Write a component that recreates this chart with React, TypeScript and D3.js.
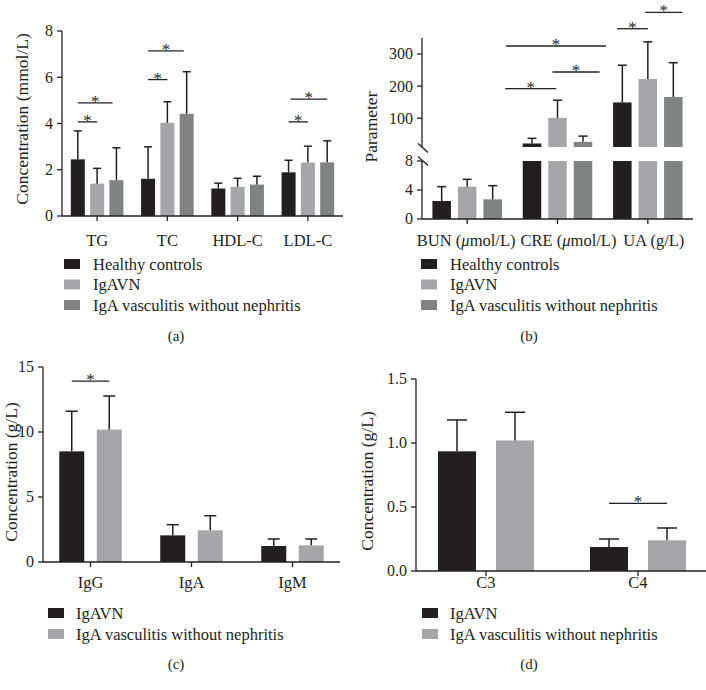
import React from "react";
import * as d3 from "d3";

const FONT = '"Liberation Serif", "Times New Roman", Times, serif';
const INK = "#231f20";
const C_BLACK = "#231f20";
const C_LIGHT = "#a6a6a9";
const C_DARK = "#818382";

// ---------- Panel (a): lipids ----------
const lipidCategories = ["TG", "TC", "HDL-C", "LDL-C"];
const lipidSeriesNames = ["Healthy controls", "IgAVN", "IgA vasculitis without nephritis"];
const lipidHealthyMean = [2.45, 1.61, 1.19, 1.89];
const lipidHealthySD = [1.23, 1.38, 0.23, 0.52];
const lipidIgAVNMean = [1.4, 4.03, 1.26, 2.31];
const lipidIgAVNSD = [0.66, 0.91, 0.37, 0.71];
const lipidNonNephMean = [1.55, 4.42, 1.36, 2.32];
const lipidNonNephSD = [1.4, 1.82, 0.36, 0.93];
const lipidTicks = [0, 2, 4, 6, 8];
// [category, from series, to series, level]
const lipidSig = [
  [0, 0, 1, 4.07],
  [0, 0, 1.8, 4.89],
  [1, 0, 1, 5.9],
  [1, 0, 1.85, 7.14],
  [3, 0, 1, 4.07],
  [3, 0.1, 2, 5.05],
];

// ---------- Panel (b): renal parameters ----------
const renalCategories = ["BUN", "CRE", "UA"];
const renalUnits = ["μmol/L", "μmol/L", "g/L"];
const renalSeriesNames = ["Healthy controls", "IgAVN", "IgA vasculitis without nephritis"];
const renalHealthyMean = [2.48, 21, 149];
const renalHealthySD = [1.98, 16, 116];
const renalIgAVNMean = [4.46, 101, 222];
const renalIgAVNSD = [1.01, 55, 116];
const renalNonNephMean = [2.71, 26, 166];
const renalNonNephSD = [1.89, 18, 107];
const renalLowerTicks = [0, 4, 8];
const renalUpperTicks = [100, 200, 300];
const renalLowerDomain = [0, 8];
const renalUpperDomain = [10, 350];
const renalSig = [
  [1, -1.05, 0.95, 192],
  [1, 0.8, 2.65, 244],
  [1, -1.02, 2.9, 325],
  [2, -0.2, 1.0, 379],
  [2, 0.9, 2.35, 430],
];

// ---------- Panel (c): immunoglobulins ----------
const igCategories = ["IgG", "IgA", "IgM"];
const igSeriesNames = ["IgAVN", "IgA vasculitis without nephritis"];
const igIgAVNMean = [8.51, 2.05, 1.23];
const igIgAVNSD = [3.09, 0.82, 0.54];
const igNonNephMean = [10.18, 2.44, 1.28];
const igNonNephSD = [2.59, 1.12, 0.49];
const igTicks = [0, 5, 10, 15];
const igSig = [[0, 0, 1, 13.92]];

// ---------- Panel (d): complement ----------
const compCategories = ["C3", "C4"];
const compSeriesNames = ["IgAVN", "IgA vasculitis without nephritis"];
const compIgAVNMean = [0.935, 0.1875];
const compIgAVNSD = [0.245, 0.0625];
const compNonNephMean = [1.02, 0.24];
const compNonNephSD = [0.22, 0.096];
const compTicks = [0, 0.5, 1.0, 1.5];
const compSig = [[1, 0, 1, 0.529]];

type Series = { name: string; color: string; means: number[]; sds: number[] };

type Cfg = {
  categories: React.ReactNode[];
  catLabelDx?: number[];
  series: Series[];
  axisX: number;
  axisRight: number;
  band: [number, number];
  barW: number;
  pitch: number;
  capW: number;
  yDomain?: [number, number];
  yRange?: [number, number];
  ticks?: number[];
  tickFmt?: (v: number) => string;
  broken?: {
    lowerDomain: number[];
    lowerRange: [number, number];
    upperDomain: number[];
    upperRange: [number, number];
    lowerTicks: number[];
    upperTicks: number[];
  };
  yTitle: string;
  yTitleX: number;
  yTitleY: number;
  yTitleSize: number;
  catLabelY: number;
  legendX: number;
  legendTextX: number;
  legendY0: number;
  legendDy: number;
  caption: string;
  captionX: number;
  captionY: number;
  sig: number[][];
};

function Panel({ cfg }: { cfg: Cfg }) {
  const n = cfg.series.length;
  const xBand = d3
    .scaleBand<number>()
    .domain(cfg.categories.map((_, i) => i))
    .range(cfg.band)
    .padding(0);
  const center = (ci: number) => (xBand(ci) as number) + xBand.bandwidth() / 2;
  const barCx = (ci: number, sj: number) => center(ci) + (sj - (n - 1) / 2) * cfg.pitch;

  let yPos: (v: number) => number;
  let y0: number;
  let yL: d3.ScaleLinear<number, number> | null = null;
  let yU: d3.ScaleLinear<number, number> | null = null;
  let yC: d3.ScaleLinear<number, number> | null = null;
  if (cfg.broken) {
    const b = cfg.broken;
    yL = d3.scaleLinear().domain(b.lowerDomain).range(b.lowerRange);
    yU = d3.scaleLinear().domain(b.upperDomain).range(b.upperRange);
    const lowMax = b.lowerDomain[1];
    yPos = (v) => (v <= lowMax ? yL!(v) : yU!(v));
    y0 = yL(0);
  } else {
    yC = d3.scaleLinear().domain(cfg.yDomain!).range(cfg.yRange!);
    yPos = (v) => yC!(v);
    y0 = yC(0);
  }

  const els: React.ReactNode[] = [];

  cfg.series.forEach((s, sj) => {
    s.means.forEach((m, ci) => {
      const cx = barCx(ci, sj);
      const x = cx - cfg.barW / 2;
      if (cfg.broken && yL && yU) {
        const lowMax = cfg.broken.lowerDomain[1];
        const upMin = cfg.broken.upperDomain[0];
        const lowTop = yL(Math.min(m, lowMax));
        els.push(
          <rect key={`bl${sj}-${ci}`} x={x} y={lowTop} width={cfg.barW} height={y0 - lowTop} fill={s.color} />
        );
        if (m > upMin) {
          const t = yU(m);
          els.push(
            <rect key={`bu${sj}-${ci}`} x={x} y={t} width={cfg.barW} height={yU(upMin) - t} fill={s.color} />
          );
        }
      } else {
        const t = yPos(m);
        els.push(<rect key={`b${sj}-${ci}`} x={x} y={t} width={cfg.barW} height={y0 - t} fill={s.color} />);
      }
      const top = yPos(m + s.sds[ci]);
      const base = yPos(m);
      els.push(
        <g key={`e${sj}-${ci}`} stroke={INK} strokeWidth={1.5}>
          <line x1={cx} x2={cx} y1={base} y2={top} />
          <line x1={cx - cfg.capW / 2} x2={cx + cfg.capW / 2} y1={top} y2={top} />
        </g>
      );
    });
  });

  const axis: React.ReactNode[] = [];
  axis.push(<line key="xa" x1={cfg.axisX} x2={cfg.axisRight} y1={y0} y2={y0} />);
  cfg.categories.forEach((_, ci) => {
    axis.push(<line key={`xt${ci}`} x1={center(ci)} x2={center(ci)} y1={y0} y2={y0 + 5} />);
  });
  const tickLabels: React.ReactNode[] = [];
  const addTick = (yy: number, key: string, label: string) => {
    axis.push(<line key={`yt${key}`} x1={cfg.axisX - 5} x2={cfg.axisX} y1={yy} y2={yy} />);
    tickLabels.push(
      <text key={`yl${key}`} x={cfg.axisX - 9} y={yy} dy="0.34em" textAnchor="end" fontSize={16}>
        {label}
      </text>
    );
  };
  if (cfg.broken && yL && yU) {
    const b = cfg.broken;
    axis.push(<line key="yal" x1={cfg.axisX} x2={cfg.axisX} y1={yL(b.lowerDomain[0])} y2={yL(b.lowerDomain[1])} />);
    axis.push(<line key="yau" x1={cfg.axisX} x2={cfg.axisX} y1={yU(b.upperDomain[0])} y2={yU(b.upperDomain[1])} />);
    b.lowerTicks.forEach((v) => addTick(yL!(v), `l${v}`, String(v)));
    b.upperTicks.forEach((v) => addTick(yU!(v), `u${v}`, String(v)));
    [yU(b.upperDomain[0]) + 1, yL(b.lowerDomain[1])].forEach((yy, k) => {
      axis.push(<line key={`brk${k}`} x1={cfg.axisX - 4} x2={cfg.axisX + 6} y1={yy - 4.5} y2={yy + 4.5} />);
    });
  } else if (yC) {
    const d = cfg.yDomain!;
    axis.push(<line key="ya" x1={cfg.axisX} x2={cfg.axisX} y1={yC(d[0])} y2={yC(d[1])} />);
    cfg.ticks!.forEach((v) => addTick(yC!(v), `${v}`, cfg.tickFmt ? cfg.tickFmt(v) : String(v)));
  }

  const sigEls = cfg.sig.map(([ci, a, b, lvl], k) => {
    const xa = barCx(ci, a);
    const xb = barCx(ci, b);
    const yy = yPos(lvl);
    return (
      <g key={`s${k}`}>
        <line x1={xa} x2={xb} y1={yy} y2={yy} stroke={INK} strokeWidth={1.3} />
        <text x={(xa + xb) / 2} y={yy + 4} textAnchor="middle" fontSize={17} fill={INK}>
          *
        </text>
      </g>
    );
  });

  return (
    <g fontFamily={FONT} fill={INK}>
      {els}
      <g stroke={INK} strokeWidth={1.3} fill="none">
        {axis}
      </g>
      {tickLabels}
      {sigEls}
      {cfg.categories.map((c, ci) => (
        <text
          key={`cl${ci}`}
          x={center(ci) + (cfg.catLabelDx ? cfg.catLabelDx[ci] : 0)}
          y={cfg.catLabelY}
          dy="0.34em"
          textAnchor="middle"
          fontSize={16.5}
        >
          {c}
        </text>
      ))}
      <text
        transform={`translate(${cfg.yTitleX},${cfg.yTitleY}) rotate(-90)`}
        textAnchor="middle"
        dy="0.34em"
        fontSize={cfg.yTitleSize}
      >
        {cfg.yTitle}
      </text>
      {cfg.series.map((s, sj) => {
        const yy = cfg.legendY0 + sj * cfg.legendDy;
        return (
          <g key={`lg${sj}`}>
            <rect x={cfg.legendX} y={yy - 5} width={16} height={10} fill={s.color} />
            <text x={cfg.legendTextX} y={yy} dy="0.34em" fontSize={16.5}>
              {s.name}
            </text>
          </g>
        );
      })}
      <text x={cfg.captionX} y={cfg.captionY} dy="0.34em" textAnchor="middle" fontSize={15}>
        {cfg.caption}
      </text>
    </g>
  );
}

export default function App() {
  const lipidColors = [C_BLACK, C_LIGHT, C_DARK];
  const lipidMeans = [lipidHealthyMean, lipidIgAVNMean, lipidNonNephMean];
  const lipidSDs = [lipidHealthySD, lipidIgAVNSD, lipidNonNephSD];
  const cfgA: Cfg = {
    categories: lipidCategories,
    series: lipidSeriesNames.map((name, i) => ({ name, color: lipidColors[i], means: lipidMeans[i], sds: lipidSDs[i] })),
    axisX: 62,
    axisRight: 343,
    band: [62, 343],
    barW: 14,
    pitch: 19.3,
    capW: 8,
    yDomain: [0, 8],
    yRange: [216, 31],
    ticks: lipidTicks,
    yTitle: "Concentration (mmol/L)",
    yTitleX: 22,
    yTitleY: 119,
    yTitleSize: 17.5,
    catLabelY: 240,
    legendX: 64,
    legendTextX: 93,
    legendY0: 264,
    legendDy: 20.5,
    caption: "(a)",
    captionX: 176,
    captionY: 336,
    sig: lipidSig,
  };

  const renalMeans = [renalHealthyMean, renalIgAVNMean, renalNonNephMean];
  const renalSDs = [renalHealthySD, renalIgAVNSD, renalNonNephSD];
  const cfgB: Cfg = {
    categories: renalCategories.map((c, i) => {
      const u = renalUnits[i];
      if (u.startsWith("μ")) {
        return (
          <>
            {c} (<tspan fontStyle="italic">μ</tspan>
            {u.slice(1)})
          </>
        );
      }
      return `${c} (${u})`;
    }),
    catLabelDx: [-1, 11, 6],
    series: renalSeriesNames.map((name, i) => ({ name, color: lipidColors[i], means: renalMeans[i], sds: renalSDs[i] })),
    axisX: 422,
    axisRight: 693,
    band: [422, 693],
    barW: 18.5,
    pitch: 25.5,
    capW: 9,
    broken: {
      lowerDomain: renalLowerDomain,
      lowerRange: [219, 161],
      upperDomain: renalUpperDomain,
      upperRange: [147, 38],
      lowerTicks: renalLowerTicks,
      upperTicks: renalUpperTicks,
    },
    yTitle: "Parameter",
    yTitleX: 371,
    yTitleY: 127,
    yTitleSize: 17.5,
    catLabelY: 240,
    legendX: 421,
    legendTextX: 450,
    legendY0: 264,
    legendDy: 20.5,
    caption: "(b)",
    captionX: 529,
    captionY: 336,
    sig: renalSig,
  };

  const igColors = [C_BLACK, C_LIGHT];
  const igMeans = [igIgAVNMean, igNonNephMean];
  const igSDs = [igIgAVNSD, igNonNephSD];
  const cfgC: Cfg = {
    categories: igCategories,
    series: igSeriesNames.map((name, i) => ({ name, color: igColors[i], means: igMeans[i], sds: igSDs[i] })),
    axisX: 43,
    axisRight: 340,
    band: [40, 343],
    barW: 25,
    pitch: 37.5,
    capW: 12,
    yDomain: [0, 15],
    yRange: [562, 367],
    ticks: igTicks,
    yTitle: "Concentration (g/L)",
    yTitleX: 11,
    yTitleY: 472,
    yTitleSize: 17.5,
    catLabelY: 582,
    legendX: 48,
    legendTextX: 76,
    legendY0: 613,
    legendDy: 21,
    caption: "(c)",
    captionX: 176,
    captionY: 664,
    sig: igSig,
  };

  const compMeans = [compIgAVNMean, compNonNephMean];
  const compSDs = [compIgAVNSD, compNonNephSD];
  const cfgD: Cfg = {
    categories: compCategories,
    series: compSeriesNames.map((name, i) => ({ name, color: igColors[i], means: compMeans[i], sds: compSDs[i] })),
    axisX: 416,
    axisRight: 706,
    band: [410, 714],
    barW: 38,
    pitch: 58,
    capW: 20,
    yDomain: [0, 1.5],
    yRange: [571, 379],
    ticks: compTicks,
    tickFmt: d3.format(".1f"),
    yTitle: "Concentration (g/L)",
    yTitleX: 367,
    yTitleY: 481,
    yTitleSize: 17.5,
    catLabelY: 582,
    legendX: 422,
    legendTextX: 450,
    legendY0: 613,
    legendDy: 21,
    caption: "(d)",
    captionX: 529,
    captionY: 664,
    sig: compSig,
  };

  return (
    <svg
      width={706}
      height={690}
      viewBox="0 0 706 690"
      style={{ position: "absolute", left: 0, top: 0, background: "#fff" }}
    >
      <rect width={706} height={690} fill="#fff" />
      <Panel cfg={cfgA} />
      <Panel cfg={cfgB} />
      <Panel cfg={cfgC} />
      <Panel cfg={cfgD} />
    </svg>
  );
}
